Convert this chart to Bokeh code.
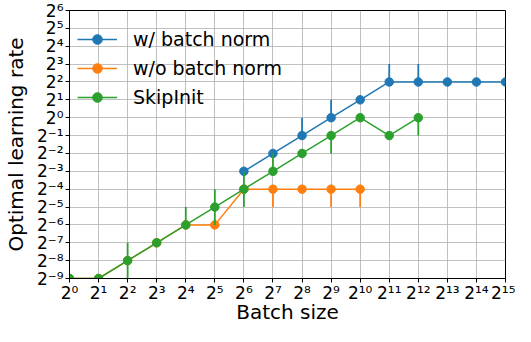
from bokeh.plotting import figure
from bokeh.models import Range1d, FixedTicker, Legend, LegendItem
from bokeh.embed import file_html
from bokeh.resources import INLINE

# ---- data ----
batch_exps = list(range(0, 16))
lr_exps = list(range(-9, 7))

bn_bs = [64, 128, 256, 512, 1024, 2048, 4096, 8192, 16384, 32768]
bn_lr = [0.125, 0.25, 0.5, 1, 2, 4, 4, 4, 4, 4]
bn_err_bs = [256, 512, 2048, 4096]
bn_err_lo = [0.5, 1, 4, 4]
bn_err_hi = [1, 2, 8, 8]

nobn_bs = [1, 2, 4, 8, 16, 32, 64, 128, 256, 512, 1024]
nobn_lr = [0.001953125, 0.001953125, 0.00390625, 0.0078125, 0.015625, 0.015625,
           0.0625, 0.0625, 0.0625, 0.0625, 0.0625]
nobn_err_bs = [128, 512, 1024]
nobn_err_lo = [0.03125, 0.03125, 0.03125]
nobn_err_hi = [0.0625, 0.0625, 0.0625]

skip_bs = [1, 2, 4, 8, 16, 32, 64, 128, 256, 512, 1024, 2048, 4096]
skip_lr = [0.001953125, 0.001953125, 0.00390625, 0.0078125, 0.015625, 0.03125,
           0.0625, 0.125, 0.25, 0.5, 1, 0.5, 1]
skip_err_bs = [4, 16, 32, 64, 128, 512, 4096]
skip_err_lo = [0.001953125, 0.015625, 0.015625, 0.03125, 0.125, 0.25, 0.5]
skip_err_hi = [0.0078125, 0.03125, 0.0625, 0.125, 0.25, 0.5, 1]

labels = ["w/ batch norm", "w/o batch norm", "SkipInit"]
colors = ["#1f77b4", "#ff7f0e", "#2ca02c"]

SUP = str.maketrans("0123456789-", "⁰¹²³⁴⁵⁶⁷⁸⁹⁻")

def sup_label(e):
    return "2" + str(e).translate(SUP)

FONT = "DejaVu Sans"

p = figure(width=515, height=326, x_axis_type="log", y_axis_type="log",
           x_range=Range1d(2 ** batch_exps[0], 2 ** batch_exps[-1]),
           y_range=Range1d(2.0 ** lr_exps[0], 2.0 ** lr_exps[-1]),
           output_backend="svg", toolbar_location=None,
           min_border_left=66, min_border_right=10, min_border_top=10, min_border_bottom=40)

xticks = [2 ** e for e in batch_exps]
yticks = [2.0 ** e for e in lr_exps]
p.xaxis.ticker = FixedTicker(ticks=xticks, minor_ticks=[])
p.yaxis.ticker = FixedTicker(ticks=yticks, minor_ticks=[])
p.xaxis.major_label_overrides = {t: sup_label(e) for t, e in zip(xticks, batch_exps)}
p.yaxis.major_label_overrides = {t: sup_label(e) for t, e in zip(yticks, lr_exps)}

for ax in (p.xaxis, p.yaxis):
    ax.major_label_text_font = FONT
    ax.major_label_text_font_size = "17px"
    ax.major_label_text_color = "black"
    ax.axis_label_text_font = FONT
    ax.axis_label_text_font_size = "20px"
    ax.axis_label_text_font_style = "normal"
    ax.axis_label_text_color = "black"
    ax.axis_line_color = "black"
    ax.major_tick_line_color = "black"
    ax.major_tick_out = 4
    ax.major_tick_in = 0
    ax.minor_tick_line_color = None
p.xaxis.major_label_standoff = 0
p.yaxis.major_label_standoff = 2
p.xaxis.axis_label = "Batch size"
p.yaxis.axis_label = "Optimal learning rate"
p.xaxis.axis_label_standoff = -6
p.yaxis.axis_label_standoff = 6

p.xgrid.grid_line_color = "#b0b0b0"
p.ygrid.grid_line_color = "#b0b0b0"
p.xgrid.grid_line_width = 0.8
p.ygrid.grid_line_width = 0.8
p.outline_line_color = "black"
p.outline_line_width = 1
p.background_fill_color = "white"
p.border_fill_color = "white"

series = [
    (bn_bs, bn_lr, bn_err_bs, bn_err_lo, bn_err_hi),
    (nobn_bs, nobn_lr, nobn_err_bs, nobn_err_lo, nobn_err_hi),
    (skip_bs, skip_lr, skip_err_bs, skip_err_lo, skip_err_hi),
]

items = []
for (xs, ys, ebx, elo, ehi), lab, col in zip(series, labels, colors):
    seg = p.segment(x0=ebx, y0=elo, x1=ebx, y1=ehi, line_color=col, line_width=1.8)
    ln = p.line(xs, ys, line_color=col, line_width=1.5)
    sc = p.scatter(xs, ys, marker="circle", size=8.5, fill_color=col, line_color=col)
    items.append(LegendItem(label=lab, renderers=[ln, sc]))

legend = Legend(items=items, location=(8, 169), border_line_color=None,
                background_fill_alpha=0, label_text_font=FONT, label_text_color="black",
                label_text_font_size="19px", glyph_width=40, glyph_height=24,
                label_standoff=16, spacing=5, padding=8, label_height=24)
p.add_layout(legend)

open("out.html", "w").write(file_html(p, INLINE))
